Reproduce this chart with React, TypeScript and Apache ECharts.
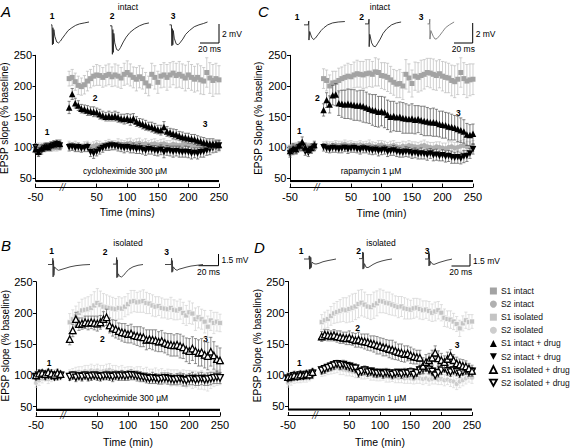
import React, { useEffect, useRef } from "react";
import * as echarts from "echarts";

const FONT = "Liberation Sans, Arial, Helvetica, sans-serif";

// ---------- time points (min) ----------
const TIME = [-50, -45, -40, -35, -30, -25, -20, -15, -10,
  5, 10, 15, 20, 25, 30, 35, 40, 45, 50, 55, 60, 65, 70, 75, 80, 85, 90, 95, 100,
  105, 110, 115, 120, 125, 130, 135, 140, 145, 150, 155, 160, 165, 170, 175, 180, 185, 190, 195, 200,
  205, 210, 215, 220, 225, 230, 235, 240, 245, 250];

const X_TICKS = [-50, 50, 100, 150, 200, 250];
const Y_TICKS = [50, 100, 150, 200, 250];
const AXIS_BREAK_AT = -4;
const DRUG_BAR = [-50, 250];

// ---------- Panel A (intact, cycloheximide) ----------
const A_S1_INTACT = [98, 101, 99, 102, 100, 101, 103, 100, 102,
  212, 214, 207, 201, 199, 202, 208, 212, 216, 218, 217, 214, 217, 219, 215, 218, 216, 213, 219, 222,
  218, 214, 211, 215, 212, 205, 200, 219, 214, 206, 216, 218, 214, 218, 221, 217, 219, 216, 213, 218,
  214, 211, 214, 210, 208, 222, 213, 209, 212, 210];
const A_S1_INTACT_ERR = [6, 6, 5, 6, 5, 6, 5, 6, 5,
  12, 13, 14, 15, 14, 15, 16, 15, 16, 17, 16, 16, 17, 17, 16, 18, 18, 17, 18, 19,
  18, 17, 19, 18, 17, 17, 16, 18, 19, 18, 19, 20, 21, 20, 19, 20, 21, 20, 21, 22,
  21, 21, 22, 23, 22, 24, 25, 26, 25, 23];
const A_S2_INTACT = [101, 99, 102, 98, 100, 103, 99, 101, 100,
  104, 102, 103, 101, 100, 102, 103, 101, 102, 104, 103, 102, 104, 105, 103, 104, 106, 105, 104, 106,
  107, 105, 106, 107, 105, 106, 104, 105, 106, 104, 105, 106, 104, 103, 105, 104, 103, 104, 105, 103,
  104, 102, 103, 101, 104, 102, 101, 103, 102, 101];
const A_S2_INTACT_ERR = [5, 5, 5, 5, 5, 5, 5, 5, 5,
  6, 6, 7, 6, 6, 7, 7, 6, 7, 7, 7, 6, 7, 8, 7, 7, 8, 7, 7, 8,
  8, 7, 8, 8, 7, 8, 7, 8, 8, 7, 8, 8, 7, 8, 8, 7, 8, 8, 9, 8,
  8, 9, 8, 9, 8, 9, 9, 8, 9, 8];
const A_S1_DRUG = [97, 93, 98, 101, 100, 104, 105, 107, 106,
  165, 187, 172, 168, 163, 162, 160, 159, 158, 157, 154, 152, 150, 151, 150, 151, 149, 147, 146, 147,
  145, 147, 142, 140, 138, 136, 134, 133, 131, 129, 128, 133, 126, 124, 122, 121, 119, 117, 116, 115,
  114, 113, 111, 110, 108, 107, 106, 106, 105, 104];
const A_S1_DRUG_ERR = [6, 7, 6, 5, 6, 5, 6, 5, 6,
  10, 9, 8, 8, 7, 7, 8, 7, 8, 7, 8, 7, 7, 8, 7, 8, 8, 7, 8, 8,
  9, 8, 8, 7, 8, 8, 7, 8, 8, 7, 8, 9, 8, 7, 8, 8, 7, 8, 7, 8,
  7, 8, 8, 7, 8, 7, 8, 8, 7, 8];
const A_S2_DRUG = [100, 92, 95, 99, 102, 100, 104, 105, 103,
  100, 101, 99, 100, 98, 99, 100, 92, 90, 93, 96, 99, 101, 102, 103, 102, 101, 100, 99, 100,
  98, 99, 97, 98, 96, 95, 97, 96, 95, 94, 96, 92, 95, 94, 93, 94, 93, 92, 93, 92,
  90, 91, 90, 92, 93, 95, 97, 99, 101, 103];
const A_S2_DRUG_ERR = [6, 7, 6, 6, 5, 6, 5, 6, 6,
  6, 6, 6, 7, 6, 6, 7, 7, 8, 7, 7, 7, 6, 7, 7, 6, 7, 7, 8, 7,
  7, 8, 7, 8, 7, 8, 8, 7, 8, 8, 8, 9, 8, 8, 9, 8, 9, 8, 9, 9,
  9, 8, 9, 8, 9, 8, 9, 8, 9, 8];

// ---------- Panel C (intact, rapamycin) ----------
const C_S1_INTACT = [99, 101, 100, 102, 98, 101, 100, 99, 102,
  212, 209, 200, 205, 206, 209, 212, 214, 216, 215, 218, 220, 219, 218, 220, 221, 219, 223, 222, 217,
  216, 214, 210, 206, 203, 204, 200, 219, 213, 204, 216, 214, 217, 219, 222, 221, 219, 217, 220, 216,
  214, 213, 209, 207, 211, 222, 212, 208, 210, 211];
const C_S1_INTACT_ERR = [5, 6, 5, 6, 5, 5, 6, 5, 6,
  16, 17, 18, 19, 18, 20, 19, 20, 21, 20, 21, 22, 21, 22, 23, 22, 21, 23, 22, 21,
  22, 23, 22, 21, 22, 23, 22, 24, 23, 22, 23, 24, 25, 24, 23, 24, 25, 24, 23, 24,
  25, 24, 25, 26, 25, 24, 26, 27, 26, 25];
const C_S2_INTACT = [98, 100, 103, 101, 99, 100, 102, 100, 98,
  103, 104, 102, 103, 104, 103, 104, 105, 103, 104, 102, 103, 104, 102, 103, 104, 102, 101, 103, 104,
  102, 101, 102, 103, 101, 100, 102, 101, 103, 102, 101, 100, 102, 103, 101, 100, 99, 101, 100, 99,
  98, 100, 101, 99, 100, 102, 103, 101, 100, 102];
const C_S2_INTACT_ERR = [5, 5, 5, 5, 5, 5, 5, 5, 5,
  6, 6, 7, 6, 7, 7, 6, 7, 7, 7, 7, 6, 7, 7, 7, 8, 7, 7, 8, 7,
  8, 7, 8, 8, 7, 8, 8, 8, 8, 7, 8, 8, 8, 9, 8, 8, 9, 8, 9, 8,
  9, 9, 8, 9, 9, 9, 10, 9, 9, 9];
const C_S1_DRUG = [94, 98, 97, 103, 109, 100, 96, 99, 104,
  161, 177, 170, 185, 186, 172, 171, 170, 171, 170, 169, 168, 168, 167, 165, 163, 161, 160, 158, 159,
  157, 153, 150, 151, 149, 150, 148, 147, 146, 147, 145, 146, 144, 143, 142, 141, 141, 140, 138, 137,
  136, 134, 133, 132, 130, 128, 126, 121, 120, 122];
const C_S1_DRUG_ERR = [7, 8, 7, 6, 8, 7, 6, 7, 6,
  10, 12, 14, 16, 18, 20, 22, 23, 24, 24, 25, 24, 25, 26, 25, 24, 25, 26, 25, 24,
  25, 24, 25, 24, 23, 24, 25, 24, 23, 24, 23, 22, 23, 24, 23, 22, 23, 22, 21, 22,
  21, 22, 21, 20, 21, 20, 19, 18, 17, 16];
const C_S2_DRUG = [90, 94, 96, 100, 102, 93, 91, 97, 101,
  100, 98, 97, 99, 98, 97, 98, 99, 97, 98, 99, 97, 96, 98, 97, 96, 95, 96, 94, 95,
  96, 93, 94, 95, 93, 92, 91, 93, 92, 90, 91, 89, 90, 89, 88, 90, 87, 88, 86, 87,
  85, 86, 84, 83, 84, 82, 85, 86, 90, 97];
const C_S2_DRUG_ERR = [6, 6, 7, 6, 7, 6, 6, 7, 6,
  6, 6, 6, 7, 6, 6, 7, 6, 7, 6, 7, 6, 7, 7, 6, 7, 7, 7, 8, 7,
  7, 8, 7, 8, 8, 8, 7, 8, 8, 8, 8, 8, 9, 8, 9, 8, 9, 9, 8, 9,
  9, 9, 10, 9, 10, 9, 10, 9, 8, 8];

// ---------- Panel B (isolated, cycloheximide) ----------
const B_S1_ISO = [101, 99, 102, 100, 98, 101, 103, 100, 99,
  185, 190, 195, 200, 204, 205, 206, 208, 212, 216, 213, 210, 209, 208, 207, 206, 208, 207, 210, 214,
  218, 219, 217, 218, 219, 216, 215, 212, 210, 211, 208, 207, 206, 208, 205, 204, 206, 200, 196, 201,
  199, 190, 193, 190, 186, 178, 188, 184, 186, 184];
const B_S1_ISO_ERR = [6, 5, 6, 5, 6, 5, 6, 5, 6,
  14, 15, 16, 17, 18, 19, 20, 21, 22, 23, 22, 21, 20, 19, 18, 17, 18, 17, 16, 17,
  18, 17, 16, 17, 18, 17, 16, 17, 16, 15, 16, 15, 16, 17, 16, 15, 16, 17, 16, 18,
  17, 18, 17, 16, 18, 17, 16, 17, 15, 14];
const B_S2_ISO = [88, 92, 95, 97, 94, 96, 99, 98, 100,
  102, 104, 105, 106, 105, 107, 106, 108, 107, 108, 106, 107, 108, 109, 107, 106, 105, 106, 104, 105,
  104, 103, 104, 103, 101, 102, 100, 99, 100, 98, 99, 97, 98, 96, 97, 96, 95, 96, 94, 95,
  93, 94, 92, 93, 91, 90, 93, 95, 96, 97];
const B_S2_ISO_ERR = [7, 8, 7, 6, 7, 6, 7, 6, 6,
  7, 7, 8, 8, 9, 9, 10, 10, 9, 10, 10, 9, 10, 10, 9, 10, 9, 10, 9, 9,
  10, 9, 10, 11, 10, 11, 10, 11, 12, 11, 12, 11, 12, 13, 12, 13, 12, 13, 14, 13,
  14, 13, 14, 15, 14, 15, 14, 13, 12, 12];
const B_S1_DRUG = [100, 103, 104, 102, 105, 103, 101, 104, 102,
  158, 172, 190, 182, 183, 185, 184, 185, 184, 183, 185, 190, 193, 180, 176, 174, 171, 169, 168, 166,
  167, 164, 163, 162, 161, 157, 158, 157, 156, 154, 155, 152, 150, 149, 148, 149, 147, 145, 141, 139,
  143, 139, 136, 137, 133, 131, 138, 132, 126, 124];
const B_S1_DRUG_ERR = [6, 6, 5, 6, 5, 6, 5, 6, 5,
  9, 10, 11, 10, 9, 10, 11, 10, 11, 12, 11, 12, 13, 12, 13, 14, 13, 14, 15, 14,
  15, 14, 15, 16, 15, 16, 15, 16, 17, 16, 17, 16, 17, 18, 17, 18, 19, 18, 19, 20,
  19, 20, 21, 22, 21, 22, 23, 22, 21, 20];
const B_S2_DRUG = [98, 100, 102, 99, 101, 100, 98, 99, 100,
  98, 100, 97, 99, 98, 100, 98, 99, 100, 99, 98, 99, 100, 99, 98, 100, 99, 100, 99, 100,
  101, 100, 99, 98, 97, 96, 95, 96, 95, 94, 95, 96, 95, 94, 93, 94, 95, 93, 92, 94,
  95, 93, 94, 95, 93, 94, 95, 96, 97, 96];
const B_S2_DRUG_ERR = [5, 6, 5, 6, 5, 6, 5, 6, 5,
  6, 6, 7, 6, 7, 6, 7, 7, 6, 7, 7, 6, 7, 7, 8, 7, 7, 8, 7, 8,
  8, 7, 8, 8, 7, 8, 8, 9, 8, 8, 9, 8, 9, 9, 8, 9, 9, 10, 9, 9,
  10, 9, 10, 10, 9, 10, 10, 9, 10, 9];

// ---------- Panel D (isolated, rapamycin) ----------
const D_S1_ISO = [98, 100, 101, 99, 102, 100, 101, 103, 104,
  185, 188, 190, 195, 199, 201, 203, 205, 204, 206, 208, 210, 214, 216, 213, 210, 209, 212, 215, 219,
  218, 216, 215, 213, 211, 209, 210, 207, 206, 205, 207, 208, 206, 204, 205, 203, 200, 202, 204, 200,
  192, 190, 189, 186, 182, 175, 183, 188, 185, 186];
const D_S1_ISO_ERR = [6, 5, 6, 5, 6, 5, 6, 5, 6,
  12, 13, 14, 15, 16, 17, 18, 19, 20, 21, 22, 21, 22, 21, 20, 19, 20, 21, 20, 19,
  18, 17, 18, 17, 16, 17, 16, 17, 16, 15, 16, 15, 16, 15, 14, 15, 14, 15, 14, 13,
  14, 13, 14, 13, 12, 13, 12, 13, 12, 11];
const D_S2_ISO = [88, 91, 93, 95, 94, 96, 95, 97, 99,
  104, 106, 108, 110, 111, 112, 110, 109, 108, 107, 106, 105, 104, 103, 102, 103, 101, 100, 100, 99,
  100, 98, 97, 98, 97, 96, 97, 95, 96, 95, 94, 96, 95, 94, 95, 93, 94, 95, 93, 94,
  92, 93, 91, 90, 86, 90, 92, 95, 97, 96];
const D_S2_ISO_ERR = [7, 7, 6, 7, 6, 7, 6, 6, 5,
  6, 7, 7, 8, 8, 8, 9, 8, 9, 8, 8, 9, 8, 9, 8, 8, 9, 8, 9, 8,
  8, 9, 8, 8, 9, 8, 9, 8, 9, 8, 8, 9, 8, 9, 8, 9, 8, 9, 8, 9,
  9, 8, 9, 10, 9, 10, 9, 9, 8, 9];
const D_S1_DRUG = [97, 98, 100, 99, 101, 100, 102, 101, 105,
  162, 165, 164, 163, 164, 162, 161, 160, 159, 160, 158, 156, 157, 155, 154, 153, 151, 150, 148, 147,
  145, 144, 142, 141, 139, 137, 136, 134, 135, 132, 130, 129, 128, 115, 121, 124, 128, 136, 127, 124,
  121, 126, 131, 124, 119, 117, 115, 114, 111, 107];
const D_S1_DRUG_ERR = [6, 5, 6, 5, 6, 5, 6, 5, 6,
  8, 8, 9, 8, 9, 9, 10, 9, 10, 11, 10, 11, 12, 11, 12, 13, 12, 13, 14, 13,
  14, 13, 14, 15, 14, 13, 14, 13, 12, 13, 12, 11, 12, 13, 12, 11, 12, 11, 12, 11,
  10, 11, 10, 9, 10, 9, 10, 9, 8, 9];
const D_S2_DRUG = [95, 97, 99, 98, 100, 99, 101, 100, 103,
  108, 110, 112, 114, 116, 118, 116, 117, 115, 114, 112, 111, 104, 106, 108, 105, 106, 104, 103, 104,
  102, 104, 103, 101, 103, 104, 102, 104, 103, 105, 101, 104, 108, 110, 112, 109, 106, 100, 104, 108,
  111, 107, 105, 108, 106, 103, 106, 108, 105, 106];
const D_S2_DRUG_ERR = [5, 6, 5, 6, 5, 6, 5, 6, 5,
  6, 7, 6, 7, 7, 6, 7, 7, 6, 7, 6, 7, 7, 6, 7, 7, 6, 7, 7, 6,
  7, 7, 6, 7, 7, 6, 7, 7, 6, 7, 7, 6, 7, 7, 6, 7, 7, 6, 7, 7,
  6, 7, 7, 6, 7, 7, 6, 7, 7, 6];

// ---------- example EPSP traces [ms, mV] ----------
const TRACE_A1 = [[0, -0.3], [1, -0.3], [1.5, -2.4], [2, -0.6], [2.5, -2.3], [3, -0.8], [4, -1.5], [6, -2.1], [8, -2.2], [10, -2.0], [12, -1.7], [15, -1.3], [18, -0.9], [22, -0.6], [26, -0.35], [30, -0.2], [35, -0.1], [40, 0]];
const TRACE_A2 = [[0, -0.4], [2, -0.4], [2.5, -3.4], [3, -0.8], [3.5, -3.2], [4, -1.2], [5, -2.2], [7, -2.9], [9, -3.0], [11, -2.7], [14, -2.1], [17, -1.6], [21, -1.1], [26, -0.7], [31, -0.4], [36, -0.2], [41, -0.1]];
const TRACE_A3 = [[0, -0.3], [2, -0.3], [2.5, -2.5], [3, -0.7], [3.5, -2.4], [4, -0.9], [5, -1.7], [7, -2.3], [9, -2.4], [11, -2.2], [14, -1.8], [17, -1.3], [21, -0.9], [26, -0.5], [31, -0.3], [36, -0.15], [40, 0]];
const TRACE_C1 = [[0, -0.3], [4.5, -0.3], [5, 0.1], [5.2, -1.9], [6, -1.0], [8, -1.6], [10, -1.85], [12, -1.7], [15, -1.3], [18, -0.9], [21, -0.6], [25, -0.3], [30, -0.1], [36, 0], [43, 0.05]];
const TRACE_C2 = [[0, -0.2], [3.8, -0.2], [4.2, 0.3], [4.4, -2.6], [5, -1.3], [7, -2.2], [9, -2.55], [11, -2.6], [13, -2.3], [16, -1.8], [19, -1.2], [23, -0.7], [28, -0.3], [33, -0.1], [38, 0]];
const TRACE_C3 = [[0, -0.2], [2, -0.2], [2.4, 0.3], [2.6, -1.8], [3.5, -0.9], [6, -1.5], [8, -1.8], [10, -1.75], [13, -1.4], [16, -1.0], [19, -0.6], [23, -0.3], [28, 0]];
const TRACE_B1 = [[0, 0], [4.5, 0], [4.8, 0.8], [5.1, -1.6], [5.5, 0.5], [5.9, -1.4], [6.5, -0.3], [8.5, -0.6], [10.5, -0.75], [13, -0.65], [17, -0.5], [22, -0.3], [28, -0.15], [35, -0.05], [42, 0]];
const TRACE_B2 = [[0, 0.05], [3.3, 0.05], [3.6, 0.9], [3.9, -1.7], [4.3, 0.6], [4.7, -1.6], [5.3, -1.2], [6.5, -1.5], [8.5, -1.6], [10.5, -1.4], [13, -1.0], [16, -0.6], [20, -0.3], [25, -0.1], [30, 0]];
const TRACE_B3 = [[0, 0], [6.3, 0], [6.6, 0.8], [6.9, -1.0], [7.3, 0.5], [7.7, -0.9], [8.3, -0.3], [10, -0.6], [12, -0.75], [14, -0.6], [17, -0.5], [21, -0.35], [26, -0.2], [32, -0.1], [38, 0]];
const TRACE_D1 = [[0, 0], [5, 0], [5.3, 0.4], [5.6, -1.3], [6, 0.3], [6.4, -1.2], [6.8, 0.2], [7.2, -1.1], [8, -0.4], [10, -0.6], [12, -0.65], [15, -0.55], [19, -0.35], [24, -0.2], [29, -0.08], [32, 0]];
const TRACE_D2 = [[0, 0.05], [3.4, 0.05], [3.7, 0.9], [4, -1.3], [4.4, 0.8], [4.8, -1.2], [5.5, -0.6], [7, -1.05], [9, -1.1], [11, -0.95], [14, -0.7], [18, -0.45], [23, -0.25], [28, -0.1], [33, 0]];
const TRACE_D3 = [[0, 0], [3.4, 0], [3.7, 0.9], [4, -0.9], [4.4, 0.7], [4.8, -0.8], [5.5, -0.3], [7, -0.6], [9, -0.7], [11, -0.6], [14, -0.45], [18, -0.3], [22, -0.15], [26, -0.05], [27, 0]];

const LEGEND_NAMES = ["S1 intact", "S2 intact", "S1 isolated", "S2 isolated",
  "S1 intact + drug", "S2 intact + drug", "S1 isolated + drug", "S2 isolated + drug"];

// ---------- styles ----------
const DOWN_TRI = "path://M0,0L10,0L5,9Z";
const STYLE: Record<string, any> = {
  "S1 intact": { symbol: "rect", size: 5, color: "#a3a3a3", err: "#bcbcbc" },
  "S2 intact": { symbol: "circle", size: 5, color: "#b0b0b0", err: "#c6c6c6" },
  "S1 isolated": { symbol: "rect", size: 5, color: "#c4c4c4", err: "#d3d3d3", border: "#ffffff" },
  "S2 isolated": { symbol: "circle", size: 5, color: "#cdcdcd", err: "#d8d8d8", border: "#ffffff" },
  "S1 intact + drug": { symbol: "triangle", size: 6.5, color: "#000000", err: "#555555" },
  "S2 intact + drug": { symbol: "triangle", rotate: 180, size: 6.5, color: "#000000", err: "#555555" },
  "S1 isolated + drug": { symbol: "triangle", size: 6.5, color: "#ffffff", border: "#000000", bw: 1.3, err: "#666666", base: 2.6 },
  "S2 isolated + drug": { symbol: "triangle", rotate: 180, size: 6.5, color: "#ffffff", border: "#000000", bw: 1.3, err: "#666666", base: -2.6 },
};

const PANELS = [
  {
    letter: "A", title: "intact", drug: "cycloheximide 300 \u00B5M", xName: "Time (mins)", yName: "EPSP slope (% baseline)",
    series: [
      { name: "S2 intact", values: A_S2_INTACT, err: A_S2_INTACT_ERR },
      { name: "S1 intact", values: A_S1_INTACT, err: A_S1_INTACT_ERR },
      { name: "S2 intact + drug", values: A_S2_DRUG, err: A_S2_DRUG_ERR },
      { name: "S1 intact + drug", values: A_S1_DRUG, err: A_S1_DRUG_ERR },
    ],
    traces: [TRACE_A1, TRACE_A2, TRACE_A3],
  },
  {
    letter: "C", title: "intact", drug: "rapamycin 1 \u00B5M", xName: "Time (min)", yName: "EPSP Slope (% baseline)",
    series: [
      { name: "S2 intact", values: C_S2_INTACT, err: C_S2_INTACT_ERR },
      { name: "S1 intact", values: C_S1_INTACT, err: C_S1_INTACT_ERR },
      { name: "S2 intact + drug", values: C_S2_DRUG, err: C_S2_DRUG_ERR },
      { name: "S1 intact + drug", values: C_S1_DRUG, err: C_S1_DRUG_ERR },
    ],
    traces: [TRACE_C1, TRACE_C2, TRACE_C3],
  },
  {
    letter: "B", title: "isolated", drug: "cycloheximide 300 \u00B5M", xName: "Time (min)", yName: "EPSP slope (% baseline)",
    series: [
      { name: "S2 isolated", values: B_S2_ISO, err: B_S2_ISO_ERR },
      { name: "S1 isolated", values: B_S1_ISO, err: B_S1_ISO_ERR },
      { name: "S2 isolated + drug", values: B_S2_DRUG, err: B_S2_DRUG_ERR },
      { name: "S1 isolated + drug", values: B_S1_DRUG, err: B_S1_DRUG_ERR },
    ],
    traces: [TRACE_B1, TRACE_B2, TRACE_B3],
  },
  {
    letter: "D", title: "isolated", drug: "rapamycin 1 \u00B5M", xName: "Time (min)", yName: "EPSP Slope (% baseline)",
    series: [
      { name: "S2 isolated", values: D_S2_ISO, err: D_S2_ISO_ERR },
      { name: "S1 isolated", values: D_S1_ISO, err: D_S1_ISO_ERR },
      { name: "S2 isolated + drug", values: D_S2_DRUG, err: D_S2_DRUG_ERR },
      { name: "S1 isolated + drug", values: D_S1_DRUG, err: D_S1_DRUG_ERR },
    ],
    traces: [TRACE_D1, TRACE_D2, TRACE_D3],
  },
];

// ---------- layout (pixels) ----------
const LAYOUT = [
  { grid: { left: 35.5, top: 55.3, width: 183.5, height: 125.8 }, yNameGap: 22, xNameGap: 19,
    letter: [1, 11], title: [128, 6.5], drug: [125, 171], nums: [[52, 16], [112, 16], [173, 16]],
    marks: [[47, 131.7], [95, 97.7], [205, 124.3]],
    traceGrids: [[51, 20.1], [110, 20.1], [169.5, 20.1]], traceScale: { pxMs: 0.95, pxMv: 9.5, yMin: -3.6, yMax: 0.2 },
    traceColor: ["#222", "#222", "#222"],
    bar: { x: 219, y1: 24, y2: 43, x0: 200, v: "2 mV", h: "20 ms" } },
  { grid: { left: 290, top: 55.3, width: 183, height: 125.8 }, yNameGap: 26.5, xNameGap: 20,
    letter: [258, 11], title: [380, 6.5], drug: [371, 170.7], nums: [[297, 16.7], [361.7, 16.7], [421, 16.7]],
    marks: [[299.3, 131], [317.3, 97.7], [458.3, 113.3]],
    traceGrids: [[304, 18.2], [365, 18.2], [427.5, 18.2]], traceScale: { pxMs: 0.95, pxMv: 9.5, yMin: -3.0, yMax: 0.4 },
    traceColor: ["#222", "#222", "#777"],
    bar: { x: 472.7, y1: 23, y2: 43, x0: 454, v: "2 mV", h: "20 ms" } },
  { grid: { left: 36, top: 281.7, width: 184, height: 128.1 }, yNameGap: 22.5, xNameGap: 20.5,
    letter: [1, 245.5], title: [128, 242.5], drug: [126, 398], nums: [[51.7, 250.7], [105, 252.3], [166.7, 252.3]],
    marks: [[49, 363.3], [102.3, 339.3], [205.7, 338.7]],
    traceGrids: [[48, 256.7], [113, 256.7], [165, 256.7]], traceScale: { pxMs: 1.0, pxMv: 7.8, yMin: -1.8, yMax: 1.0 },
    traceColor: ["#333", "#333", "#333"],
    bar: { x: 218.5, y1: 254, y2: 265.7, x0: 198.5, v: "1.5 mV", h: "20 ms" } },
  { grid: { left: 288, top: 281.5, width: 184, height: 128.1 }, yNameGap: 24.5, xNameGap: 20.5,
    letter: [254, 247], title: [381, 243], drug: [376, 398], nums: [[301, 250.7], [358.7, 250.7], [427, 250.7]],
    marks: [[299.3, 363.3], [357.7, 327.7], [457, 345.3]],
    traceGrids: [[304, 251.2], [359, 251.2], [425, 251.2]], traceScale: { pxMs: 1.0, pxMv: 7.8, yMin: -1.5, yMax: 1.0 },
    traceColor: ["#333", "#333", "#333"],
    bar: { x: 470, y1: 254, y2: 266, x0: 451.5, v: "1.5 mV", h: "20 ms" } },
];

const TRACE_MS = 45;

function errRender(color: string) {
  return (params: any, api: any) => {
    const x = api.value(0), y = api.value(1), e = api.value(2);
    const p1 = api.coord([x, y + e]);
    const p2 = api.coord([x, y - e]);
    const w = 1.6;
    const style = { stroke: color, lineWidth: 0.7 };
    return {
      type: "group",
      children: [
        { type: "line", shape: { x1: p1[0], y1: p1[1], x2: p2[0], y2: p2[1] }, style },
        { type: "line", shape: { x1: p1[0] - w, y1: p1[1], x2: p1[0] + w, y2: p1[1] }, style },
        { type: "line", shape: { x1: p2[0] - w, y1: p2[1], x2: p2[0] + w, y2: p2[1] }, style },
      ],
    };
  };
}

function txt(text: string, x: number, y: number, size: number, o: any = {}) {
  const align = o.align || "center";
  const va = o.va || "middle";
  return {
    type: "text", x, y, silent: true,
    style: {
      text, fontSize: size, fontFamily: FONT, fill: o.fill || "#000",
      fontWeight: o.weight || "normal", fontStyle: o.style || "normal",
      align, verticalAlign: va, textAlign: align, textVerticalAlign: va,
    },
  };
}

function buildOption() {
  const grid: any[] = [];
  const xAxis: any[] = [];
  const yAxis: any[] = [];
  const series: any[] = [];
  const graphic: any[] = [];

  PANELS.forEach((p, i) => {
    const L = LAYOUT[i];
    const m = grid.length;
    grid.push({ ...L.grid, containLabel: false, outerBoundsMode: "none" });
    xAxis.push({
      type: "value", gridIndex: m, min: -50, max: 250, offset: 6,
      axisLine: { show: true, onZero: false, lineStyle: { color: "#000", width: 1 } },
      axisTick: { show: true, inside: true, length: 3.5, customValues: X_TICKS, lineStyle: { color: "#000" } },
      axisLabel: { customValues: X_TICKS, fontSize: 11, color: "#000", margin: 4, fontFamily: FONT },
      splitLine: { show: false },
      name: p.xName, nameLocation: "middle", nameGap: L.xNameGap,
      nameTextStyle: { fontSize: 10.5, color: "#000", fontFamily: FONT },
    });
    yAxis.push({
      type: "value", gridIndex: m, min: 45, max: 250,
      axisLine: { show: true, onZero: false, lineStyle: { color: "#000", width: 1 } },
      axisTick: { show: true, length: 3, customValues: Y_TICKS, lineStyle: { color: "#000" } },
      axisLabel: { customValues: Y_TICKS, fontSize: 11, color: "#000", margin: 3.5, fontFamily: FONT },
      splitLine: { show: false },
      name: p.yName, nameLocation: "middle", nameGap: L.yNameGap, nameRotate: 90,
      nameTextStyle: { fontSize: 10, color: "#000", fontFamily: FONT },
    });

    // drug application bar
    series.push({
      type: "line", xAxisIndex: m, yAxisIndex: m, silent: true, symbol: "none", z: 3,
      data: [[DRUG_BAR[0], 45], [DRUG_BAR[1], 45]],
      lineStyle: { color: "#000", width: 2.2 },
    });
    // axis break mark
    series.push({
      type: "scatter", xAxisIndex: m, yAxisIndex: m, silent: true, symbolSize: 0,
      data: [[AXIS_BREAK_AT, 45]],
      label: { show: true, position: [-4, 1], formatter: "//", fontSize: 10, fontStyle: "italic", color: "#000", fontFamily: FONT },
      clip: false, z: 5,
    });

    p.series.forEach((s, k) => {
      const st = STYLE[s.name];
      series.push({
        type: "custom", xAxisIndex: m, yAxisIndex: m, silent: true, z: 2 + k * 3,
        renderItem: errRender(st.err),
        data: TIME.map((t, j) => [t, s.values[j], s.err[j]]),
        encode: { x: 0, y: 1 },
      });
      if (st.base) {
        series.push({
          type: "scatter", xAxisIndex: m, yAxisIndex: m, silent: true, z: 3 + k * 3,
          symbol: "rect", symbolSize: [6.5, 2.2], symbolOffset: [0, st.base],
          itemStyle: { color: "#000", opacity: 1 },
          data: TIME.map((t, j) => [t, s.values[j]]),
        });
      }
      series.push({
        type: "scatter", name: s.name, xAxisIndex: m, yAxisIndex: m, silent: true, z: 4 + k * 3,
        symbol: st.symbol, symbolSize: st.size, symbolRotate: st.rotate || 0,
        itemStyle: { color: st.color, opacity: 1, borderColor: st.border || st.color, borderWidth: st.bw || (st.border ? 0.6 : 0) },
        data: TIME.map((t, j) => [t, s.values[j]]),
      });
    });

    // traces
    const sc = L.traceScale;
    p.traces.forEach((tr, k) => {
      const gi = grid.length;
      const [gl, gt] = L.traceGrids[k];
      grid.push({ left: gl, top: gt, width: TRACE_MS * sc.pxMs, height: (sc.yMax - sc.yMin) * sc.pxMv, containLabel: false, outerBoundsMode: "none" });
      xAxis.push({ type: "value", gridIndex: gi, min: 0, max: TRACE_MS, show: false });
      yAxis.push({ type: "value", gridIndex: gi, min: sc.yMin, max: sc.yMax, show: false });
      series.push({
        type: "line", xAxisIndex: gi, yAxisIndex: gi, silent: true, symbol: "none",
        data: tr, lineStyle: { color: L.traceColor[k], width: 0.9 },
      });
    });

    // texts
    graphic.push(txt(p.letter, L.letter[0], L.letter[1], 15, { align: "left", style: "italic" }));
    graphic.push(txt(p.title, L.title[0], L.title[1], 8.5));
    graphic.push(txt(p.drug, L.drug[0], L.drug[1], 8.5));
    L.nums.forEach((n, k) => graphic.push(txt(String(k + 1), n[0], n[1], 8.5, { weight: "bold" })));
    L.marks.forEach((n, k) => graphic.push(txt(String(k + 1), n[0], n[1], 8.5, { weight: "bold" })));
    const b = L.bar;
    graphic.push({ type: "line", silent: true, shape: { x1: b.x, y1: b.y1, x2: b.x, y2: b.y2 }, style: { stroke: "#000", lineWidth: 1 } });
    graphic.push({ type: "line", silent: true, shape: { x1: b.x0, y1: b.y2, x2: b.x, y2: b.y2 }, style: { stroke: "#000", lineWidth: 1 } });
    graphic.push(txt(b.v, b.x + 3, (b.y1 + b.y2) / 2 + 0.5, 8.5, { align: "left" }));
    graphic.push(txt(b.h, (b.x0 + b.x) / 2, b.y2 + 6, 8.5));
  });

  const legendData = LEGEND_NAMES.map((n) => {
    const st = STYLE[n];
    let icon = st.symbol;
    if (st.rotate) icon = DOWN_TRI;
    const small = st.symbol === "rect" || st.symbol === "circle";
    return {
      name: n, icon,
      itemStyle: { color: st.color, borderColor: st.border && !small ? st.border : st.color, borderWidth: st.bw ? 1.8 : 0 },
    };
  });

  return {
    animation: false,
    backgroundColor: "#ffffff",
    textStyle: { fontFamily: FONT },
    grid, xAxis, yAxis, series, graphic,
    legend: {
      show: true, orient: "vertical", left: 489, top: 286, selectedMode: false,
      itemWidth: 7, itemHeight: 7, itemGap: 3.1, padding: 0,
      textStyle: { fontSize: 8.5, color: "#111", fontFamily: FONT, lineHeight: 10, padding: [0, 0, 0, -1] },
      data: legendData,
    },
  };
}

export default function App() {
  const ref = useRef<HTMLDivElement>(null);
  useEffect(() => {
    document.body.style.margin = "0";
    if (!ref.current) return;
    const chart = echarts.init(ref.current, null, { renderer: "svg" });
    chart.setOption(buildOption() as any);
    return () => chart.dispose();
  }, []);
  return <div ref={ref} style={{ position: "fixed", left: 0, top: 0, width: 572, height: 448, background: "#fff" }} />;
}
